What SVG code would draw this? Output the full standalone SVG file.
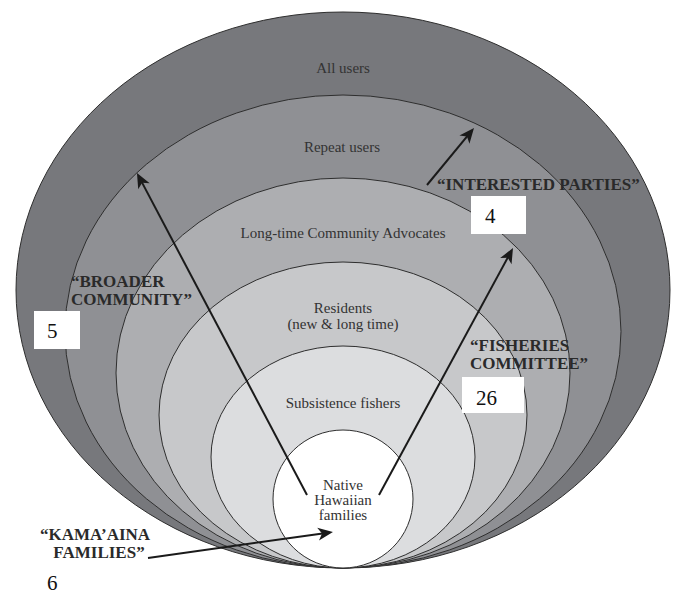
<svg xmlns="http://www.w3.org/2000/svg" width="673" height="594" viewBox="0 0 673 594">
<defs>
<marker id="ah" markerUnits="userSpaceOnUse" viewBox="-16 -8 17 16" markerWidth="17" markerHeight="16" refX="-5" refY="0" orient="auto">
<path d="M0,0 L-15,-6.5 L-11,0 L-15,6.5 Z" fill="#1a1a1a"/>
</marker>
</defs>
<style>
.ring{stroke:#2e2e2e;stroke-width:1}
.lbl{font-family:"Liberation Serif","Times New Roman",serif;font-size:15px;fill:#333;text-anchor:middle}
.cap{font-family:"Liberation Serif","Times New Roman",serif;font-size:17px;font-weight:bold;fill:#2a2a2a}
.num{font-family:"Liberation Serif","Times New Roman",serif;font-size:21px;fill:#111}
.box{fill:#fff}
.arr{stroke:#1a1a1a;stroke-width:2;fill:none;marker-end:url(#ah)}
</style>
<rect width="673" height="594" fill="#fff"/>
<g id="all-users">
<ellipse class="ring" cx="343" cy="290" rx="327" ry="278" fill="#77787c"/>
<text class="lbl" x="343" y="73">All users</text>
</g>
<g id="repeat-users">
<ellipse class="ring" cx="343" cy="331.5" rx="278" ry="236.5" fill="#8f9094"/>
<text class="lbl" x="342" y="152">Repeat users</text>
</g>
<g id="long-time">
<ellipse class="ring" cx="343" cy="373" rx="227" ry="195" fill="#adaeb1"/>
<text class="lbl" x="343" y="238">Long-time Community Advocates</text>
</g>
<g id="residents">
<ellipse class="ring" cx="343" cy="415" rx="184" ry="153" fill="#c7c8ca"/>
<text class="lbl" x="343" y="313">Residents</text>
<text class="lbl" x="343" y="329">(new &amp; long time)</text>
</g>
<g id="subsistence">
<ellipse class="ring" cx="343" cy="457" rx="132" ry="111" fill="#dcdddf"/>
<text class="lbl" x="343" y="408">Subsistence fishers</text>
</g>
<g id="native">
<ellipse class="ring" cx="343" cy="499" rx="70" ry="69" fill="#fff"/>
<text class="lbl" x="343" y="490">Native</text>
<text class="lbl" x="343" y="505">Hawaiian</text>
<text class="lbl" x="343" y="520">families</text>
</g>
<g id="connectors">
<line class="arr" x1="307" y1="495" x2="139.3" y2="177.4"/>
<line class="arr" x1="379" y1="495" x2="510.6" y2="252.4"/>
<line class="arr" x1="427" y1="185" x2="470.8" y2="131.9"/>
<line class="arr" x1="148" y1="558" x2="328" y2="532.7"/>
</g>
<g id="interested-parties">
<text class="cap" x="437" y="190">“INTERESTED PARTIES”</text>
<rect class="box" x="471" y="196" width="55" height="38"/>
<text class="num" x="485" y="223">4</text>
</g>
<g id="broader-community">
<text class="cap" x="71" y="287">“BROADER</text>
<text class="cap" x="71" y="305">COMMUNITY”</text>
<rect class="box" x="34" y="311" width="46" height="38"/>
<text class="num" x="47" y="338">5</text>
</g>
<g id="fisheries-committee">
<text class="cap" x="470" y="351">“FISHERIES</text>
<text class="cap" x="470" y="369">COMMITTEE”</text>
<rect class="box" x="462" y="377" width="62" height="36"/>
<text class="num" x="476" y="405">26</text>
</g>
<g id="kamaaina-families">
<text class="cap" x="95" y="540" text-anchor="middle">“KAMA’AINA</text>
<text class="cap" x="99" y="558" text-anchor="middle">FAMILIES”</text>
<text class="num" x="47" y="590">6</text>
</g>
</svg>
